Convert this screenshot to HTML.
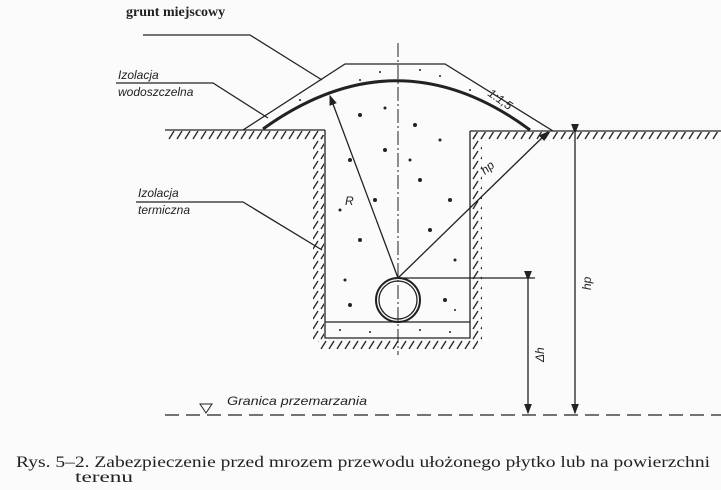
<!DOCTYPE html>
<html><head><meta charset="utf-8"><style>
html,body{margin:0;padding:0;background:#fbfbfb;width:721px;height:490px;overflow:hidden}
svg{display:block}
.it{font-family:"Liberation Sans",sans-serif;font-style:italic;font-size:12px;fill:#222}
</style></head><body>
<svg width="721" height="490" viewBox="0 0 721 490" xmlns="http://www.w3.org/2000/svg">
<defs>
<pattern id="h" width="8" height="10" patternUnits="userSpaceOnUse">
<line x1="1" y1="9" x2="6" y2="1" stroke="#222" stroke-width="1.3"/></pattern>
<marker id="a" markerWidth="8" markerHeight="8" refX="7" refY="4" orient="auto"><path d="M0,1 L8,4 L0,7z" fill="#222"/></marker>
</defs>
<g stroke="#222" fill="none" stroke-width="1.3">
<line x1="165" y1="130" x2="325" y2="130"/>
<line x1="470" y1="131" x2="721" y2="131"/>
<rect x="168" y="131" width="155" height="9" fill="url(#h)" stroke="none"/>
<rect x="472" y="132" width="248" height="9" fill="url(#h)" stroke="none"/>
<polyline points="325,130 325,338 470,338 470,131"/>
<line x1="325" y1="322" x2="470" y2="322"/>
<rect x="313" y="135" width="11" height="205" fill="url(#h)" stroke="none"/>
<rect x="471" y="135" width="11" height="205" fill="url(#h)" stroke="none"/>
<rect x="318" y="339" width="160" height="10" fill="url(#h)" stroke="none"/>
<polyline points="243,130 345,64 445,64 553,131"/>
<path d="M263,129 Q398,32 530,130" stroke-width="3"/>
<line x1="398" y1="43" x2="398" y2="355" stroke-dasharray="14,3,2,3" stroke-width="1"/>
<circle cx="398" cy="300" r="22" stroke-width="2"/>
<circle cx="398" cy="300" r="19"/>
<line x1="398" y1="278" x2="330" y2="96" marker-end="url(#a)"/>
<line x1="398" y1="278" x2="548" y2="132" marker-end="url(#a)"/>
<line x1="398" y1="278" x2="535" y2="278"/>
<line x1="528" y1="280" x2="528" y2="413" marker-start="url(#a)" marker-end="url(#a)"/>
<line x1="575" y1="133" x2="575" y2="413" marker-start="url(#a)" marker-end="url(#a)"/>
<line x1="165" y1="415" x2="721" y2="415" stroke-dasharray="14,7"/>
<path d="M200,404 L212,404 L206,413 Z" stroke-width="1"/>
<polyline points="143,35 250,35 322,80"/>
<polyline points="116,83 213,83 268,118"/>
<polyline points="136,202 243,202 322,250"/>
</g>
<g fill="#222">
<circle cx="360" cy="80" r="1"/><circle cx="380" cy="72" r="1"/><circle cx="420" cy="70" r="1"/><circle cx="440" cy="76" r="1"/><circle cx="470" cy="90" r="1"/><circle cx="500" cy="110" r="1"/><circle cx="300" cy="100" r="1"/>
<circle cx="360" cy="115" r="2"/><circle cx="385" cy="108" r="1.5"/><circle cx="415" cy="125" r="2"/><circle cx="440" cy="140" r="1.5"/><circle cx="350" cy="160" r="2"/><circle cx="375" cy="200" r="2"/><circle cx="420" cy="180" r="2"/><circle cx="450" cy="200" r="2"/><circle cx="340" cy="210" r="1.5"/><circle cx="360" cy="240" r="2"/><circle cx="430" cy="230" r="2"/><circle cx="455" cy="260" r="1.5"/><circle cx="345" cy="280" r="1.5"/><circle cx="350" cy="305" r="2"/><circle cx="445" cy="300" r="2"/><circle cx="455" cy="310" r="1"/><circle cx="410" cy="160" r="1.5"/><circle cx="385" cy="150" r="2"/>
<circle cx="340" cy="330" r="1"/><circle cx="370" cy="332" r="1"/><circle cx="420" cy="330" r="1"/><circle cx="450" cy="332" r="1"/>
</g>
<text x="126" y="16" font-family="Liberation Serif,serif" font-weight="bold" font-size="14" fill="#222">grunt miejscowy</text>
<text x="118" y="79" class="it" font-size="13">Izolacja</text>
<text x="118" y="96" class="it" font-size="11">wodoszczelna</text>
<text x="138" y="197" class="it" font-size="13">Izolacja</text>
<text x="138" y="214" class="it">termiczna</text>
<text x="345" y="205" class="it" font-size="14">R</text>
<text x="485" y="175" class="it" font-size="13" transform="rotate(-40 485 175)">hp</text>
<text x="487" y="95" class="it" font-size="11" transform="rotate(35 487 95)">1:1,5</text>
<text x="544" y="362" class="it" font-size="13" transform="rotate(-90 544 362)">Δh</text>
<text x="591" y="290" class="it" font-size="14" transform="rotate(-90 591 290)">hp</text>
<text x="227" y="405" class="it" font-size="14" textLength="140" lengthAdjust="spacingAndGlyphs">Granica przemarzania</text>
<text x="16" y="467" font-family="Liberation Serif,serif" font-size="16" fill="#222" textLength="694" lengthAdjust="spacingAndGlyphs">Rys. 5–2. Zabezpieczenie  przed mrozem przewodu ułożonego płytko lub na powierzchni</text>
<text x="75" y="482" font-family="Liberation Serif,serif" font-size="16" fill="#222" textLength="58" lengthAdjust="spacingAndGlyphs">terenu</text>
</svg>
</body></html>
